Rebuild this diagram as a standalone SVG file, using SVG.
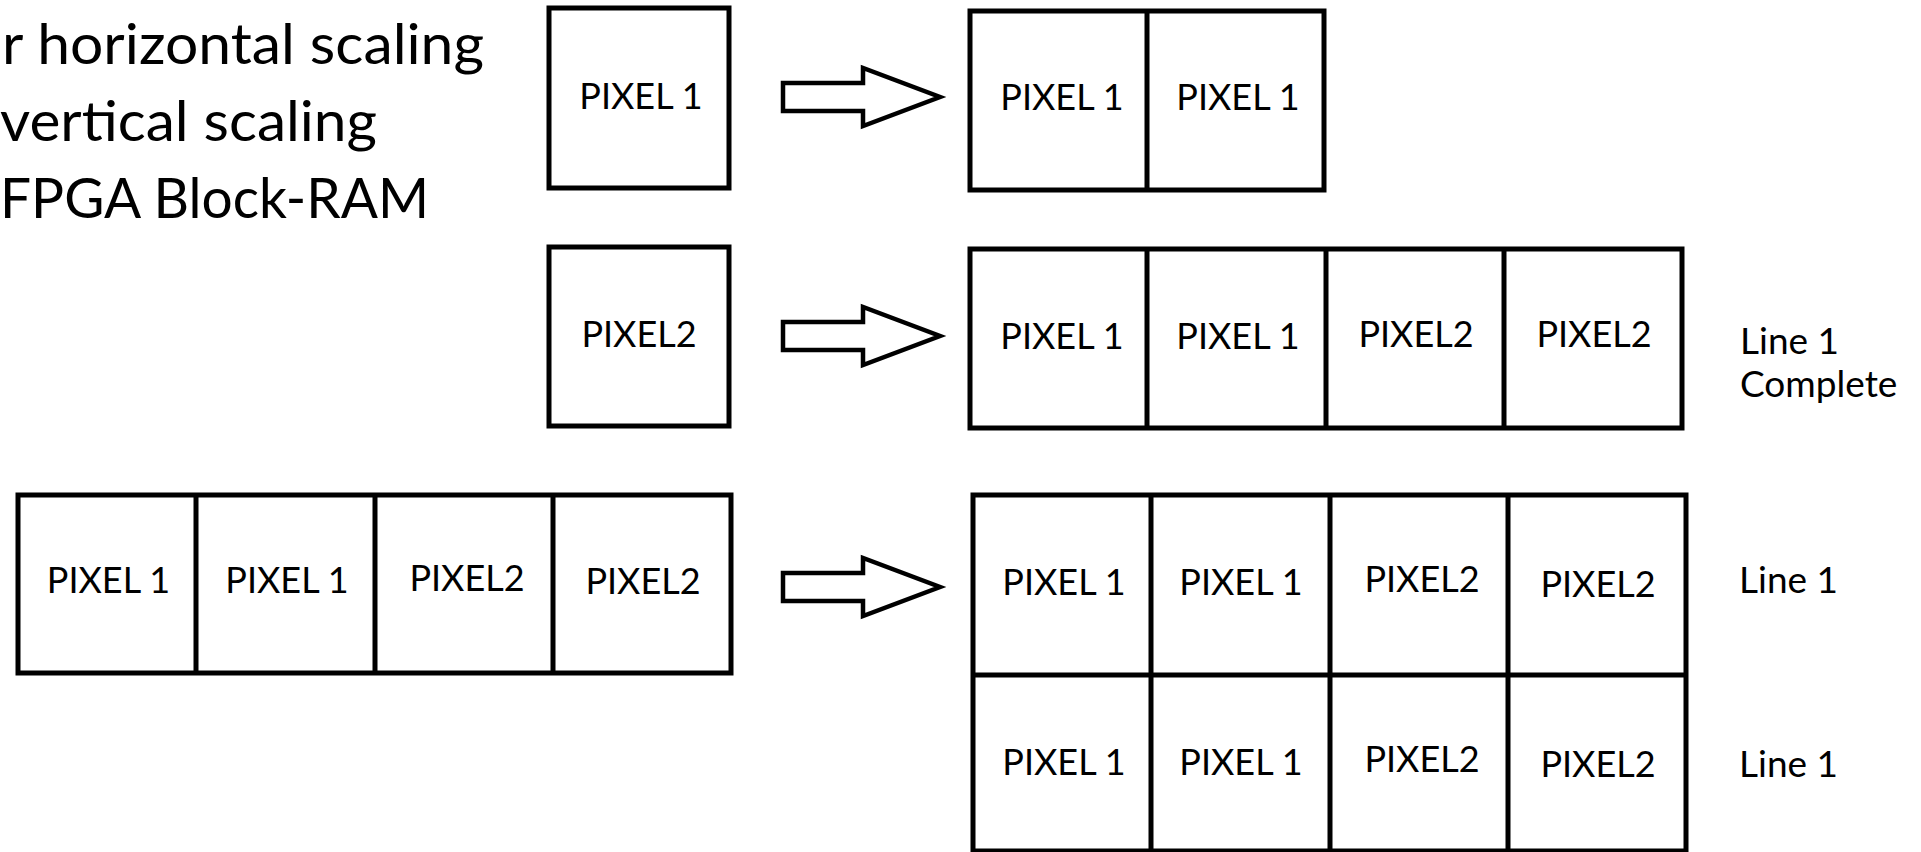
<svg xmlns="http://www.w3.org/2000/svg" width="1921" height="852" viewBox="0 0 1921 852">
<style>
.box{fill:#fff;stroke:#000;stroke-width:5}
.div{stroke:#000;stroke-width:5}
.arrow{fill:#fff;stroke:#000;stroke-width:4.5;stroke-linejoin:miter}
.lbl{font-family:Lato,"Liberation Sans",sans-serif;font-size:36px;fill:#000;text-anchor:middle}
.side{font-family:Lato,"Liberation Sans",sans-serif;font-size:37px;fill:#000}
.head{font-family:Lato,"Liberation Sans",sans-serif;font-size:56px;fill:#000}
</style>
<rect width="1921" height="852" fill="#fff"/>
<g id="heading">
<text class="head" x="2" y="64" textLength="482" lengthAdjust="spacingAndGlyphs">r horizontal scaling</text>
<text class="head" x="0" y="141" textLength="377" lengthAdjust="spacingAndGlyphs">vertical scaling</text>
<text class="head" x="0" y="218" textLength="429" lengthAdjust="spacingAndGlyphs">FPGA Block-RAM</text>
</g>
<g id="pixel1-in">
<rect class="box" x="549" y="8" width="180" height="180"/>
<text class="lbl" x="641" y="109">PIXEL 1</text>
</g>
<g id="pixel1-out">
<rect class="box" x="970" y="11" width="354" height="179"/>
<line class="div" x1="1147" y1="11" x2="1147" y2="190"/>
<text class="lbl" x="1062" y="110">PIXEL 1</text>
<text class="lbl" x="1238" y="110">PIXEL 1</text>
</g>
<g id="pixel2-in">
<rect class="box" x="549" y="247" width="180" height="179"/>
<text class="lbl" x="639" y="347">PIXEL2</text>
</g>
<g id="line1-out">
<rect class="box" x="970" y="249" width="712" height="179"/>
<line class="div" x1="1147" y1="249" x2="1147" y2="428"/>
<line class="div" x1="1326" y1="249" x2="1326" y2="428"/>
<line class="div" x1="1504" y1="249" x2="1504" y2="428"/>
<text class="lbl" x="1062" y="349">PIXEL 1</text>
<text class="lbl" x="1238" y="349">PIXEL 1</text>
<text class="lbl" x="1416" y="347">PIXEL2</text>
<text class="lbl" x="1594" y="347">PIXEL2</text>
<text class="side" x="1740" y="354">Line 1</text>
<text class="side" x="1740" y="397">Complete</text>
</g>
<g id="line1-in">
<rect class="box" x="18" y="495" width="713" height="178"/>
<line class="div" x1="196" y1="495" x2="196" y2="673"/>
<line class="div" x1="375" y1="495" x2="375" y2="673"/>
<line class="div" x1="553" y1="495" x2="553" y2="673"/>
<text class="lbl" x="108.5" y="593">PIXEL 1</text>
<text class="lbl" x="287" y="593">PIXEL 1</text>
<text class="lbl" x="467" y="591">PIXEL2</text>
<text class="lbl" x="643" y="594">PIXEL2</text>
</g>
<g id="frame-out">
<rect class="box" x="973" y="495" width="713" height="356"/>
<line class="div" x1="973" y1="675" x2="1686" y2="675"/>
<line class="div" x1="1151" y1="495" x2="1151" y2="851"/>
<line class="div" x1="1330" y1="495" x2="1330" y2="851"/>
<line class="div" x1="1508" y1="495" x2="1508" y2="851"/>
<text class="lbl" x="1064" y="595">PIXEL 1</text>
<text class="lbl" x="1241" y="595">PIXEL 1</text>
<text class="lbl" x="1422" y="592">PIXEL2</text>
<text class="lbl" x="1598" y="597">PIXEL2</text>
<text class="lbl" x="1064" y="775">PIXEL 1</text>
<text class="lbl" x="1241" y="775">PIXEL 1</text>
<text class="lbl" x="1422" y="772">PIXEL2</text>
<text class="lbl" x="1598" y="777">PIXEL2</text>
<text class="side" x="1739" y="593">Line 1</text>
<text class="side" x="1739" y="777">Line 1</text>
</g>
<g id="connectors">
<polygon class="arrow" points="783,83 863,83 863,68 940,97 863,126 863,111 783,111"/>
<polygon class="arrow" points="783,322 863,322 863,307 940,336 863,365 863,350 783,350"/>
<polygon class="arrow" points="783,573 863,573 863,558 940,587 863,616 863,601 783,601"/>
</g>
</svg>
